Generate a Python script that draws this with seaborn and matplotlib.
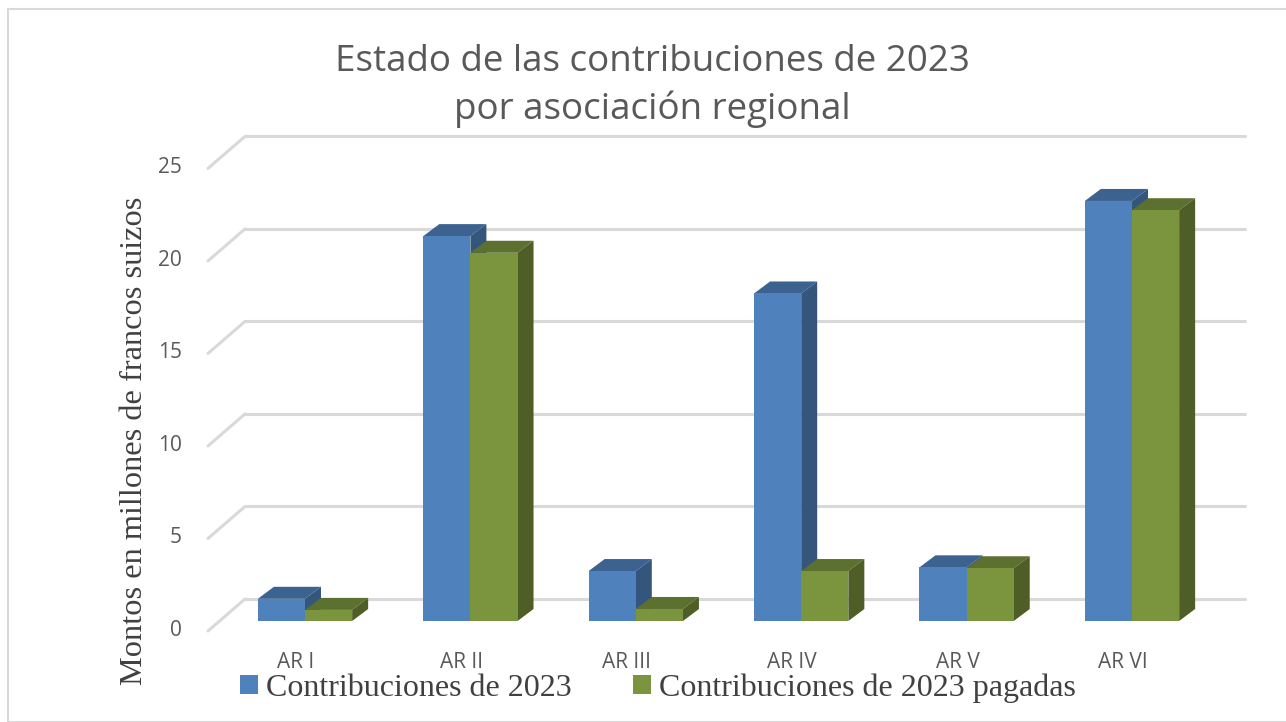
import numpy as np
import pandas as pd
import seaborn as sns
import matplotlib.pyplot as plt
from matplotlib.patches import Polygon, Rectangle
from matplotlib.lines import Line2D
from matplotlib.transforms import ScaledTranslation, blended_transform_factory

#
# DATOS
#

regiones = ["AR I", "AR II", "AR III", "AR IV", "AR V", "AR VI"]
contribuciones = [1.2, 20.8, 2.7, 17.7, 2.9, 22.7]
pagadas = [0.6, 19.9, 0.65, 2.7, 2.85, 22.2]
series = ["Contribuciones de 2023", "Contribuciones de 2023 pagadas"]
yticks = [0, 5, 10, 15, 20, 25]

titulo = "Estado de las contribuciones de 2023\npor asociación regional"
ylabel = "Montos en millones de francos suizos"

frente = {series[0]: "#4F81BD", series[1]: "#7A953D"}
arriba = {series[0]: "#3C628F", series[1]: "#5C702F"}
lado = {series[0]: "#35567C", series[1]: "#4E5E26"}

GRIS = "#595959"
SANS = ["Open Sans", "DejaVu Sans"]
SERIF = ["Liberation Serif", "DejaVu Serif"]

df = pd.DataFrame({
    "region": regiones * 2,
    "serie": [series[0]] * len(regiones) + [series[1]] * len(regiones),
    "monto": contribuciones + pagadas,
})

sns.set_style("white")

W, H = 1286, 722
f = plt.figure(figsize=(W / 100, H / 100), dpi=100)

# ejes (en pixeles de la figura)
left, right, bottom, top = 208, 1208, 621, 158.4
ax = f.add_axes([left / W, (H - bottom) / H, (right - left) / W, (bottom - top) / H])

sns.barplot(data=df, x="region", y="monto", hue="serie", palette=frente,
            width=0.57, gap=0, ax=ax, legend=False, saturation=1, errorbar=None)

xlim = (-97 / 165.4, -97 / 165.4 + 1000 / 165.4)
ax.set_xlim(*xlim)
ax.set_ylim(0, 25)
for s in ax.spines.values():
    s.set_visible(False)

px_x = (xlim[1] - xlim[0]) / (right - left)   # datos por pixel
px_y = 25 / (bottom - top)

# caras 3D de las barras
# orden: azul (frente, caras) debajo, verde encima
dx, dy = 16 * px_x, 12 * px_y
bars = [p for p in ax.patches if isinstance(p, Rectangle)]
for i, b in enumerate(bars):
    verde = i >= len(regiones)
    serie = series[1] if verde else series[0]
    z = 4 if verde else 2
    x0, w, h = b.get_x(), b.get_width(), b.get_height()
    x1 = x0 + w
    b.set_linewidth(0)
    b.set_zorder(z + 0.5)
    top_face = Polygon([(x0, h), (x1, h), (x1 + dx, h + dy), (x0 + dx, h + dy)],
                       closed=True, facecolor=arriba[serie], lw=0, clip_on=False, zorder=z)
    side_face = Polygon([(x1, 0), (x1, h), (x1 + dx, h + dy), (x1 + dx, dy)],
                        closed=True, facecolor=lado[serie], lw=0, clip_on=False, zorder=z)
    ax.add_patch(top_face)
    ax.add_patch(side_face)

# pared de fondo: lineas de cuadricula desplazadas
back = ScaledTranslation(37 / 100, 22 / 100, f.dpi_scale_trans)
front = ScaledTranslation(0, -10 / 100, f.dpi_scale_trans)
blend = blended_transform_factory(ax.transAxes, ax.transData)
for v in yticks:
    ax.add_line(Line2D([0, 1], [v, v], transform=blend + back, color="#D9D9D9",
                       lw=2.2, zorder=0, clip_on=False))
    # diagonal desde el frente hasta el fondo
    p0 = (blend + front).transform((0, v))
    p1 = (blend + back).transform((0, v))
    ax.add_line(Line2D([p0[0], p1[0]], [p0[1], p1[1]], transform=None, color="#D9D9D9",
                       lw=2.2, zorder=0, clip_on=False))

ax.set_yticks(yticks)
ax.tick_params(axis="y", length=0, pad=19, labelsize=15, labelcolor=GRIS)
ax.tick_params(axis="x", length=0, pad=22, labelsize=15, labelcolor=GRIS)
for lab in ax.get_yticklabels():
    lab.set_fontfamily(SANS)
    lab.set_transform(lab.get_transform() + ScaledTranslation(0, -7 / 100, f.dpi_scale_trans))
for lab in ax.get_xticklabels():
    lab.set_fontfamily(SANS)
    lab.set_transform(lab.get_transform() + ScaledTranslation(-9 / 100, 0, f.dpi_scale_trans))

ax.set_xlabel("")
ax.set_ylabel("")

f.text(652 / W, 1 - 86 / H, titulo, ha="center", va="center", fontsize=26.5,
       color=GRIS, family=SANS, linespacing=1.34)
f.text(135 / W, 1 - 441 / H, ylabel, rotation=90, ha="center", va="center",
       fontsize=23.3, color="#404040", family=SERIF)

handles = [Rectangle((0, 0), 1, 1, facecolor=frente[s], lw=0) for s in series]
leg = f.legend(handles, series, loc="center", bbox_to_anchor=(658 / W, 1 - 688 / H),
               ncol=2, frameon=False, prop={"family": SERIF, "size": 23},
               handlelength=0.55, handleheight=0.55, handletextpad=0.25, columnspacing=1.93,
               borderaxespad=0)
for t in leg.get_texts():
    t.set_color("#404040")

# borde del grafico
f.add_artist(Rectangle((8 / W, 0), 1.2, 1 - 9 / H, transform=f.transFigure,
                       facecolor="none", edgecolor="#D9D9D9", lw=1.5))

f.savefig("out.png", dpi=100)
